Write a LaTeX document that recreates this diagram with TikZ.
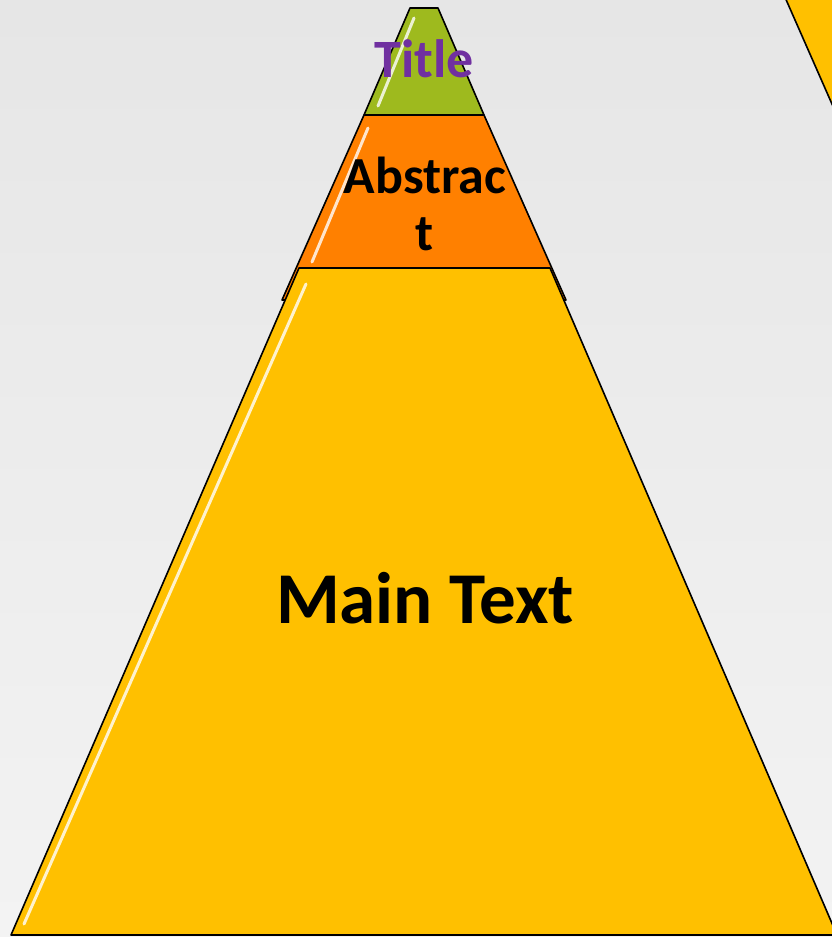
\documentclass[tikz,border=0pt]{standalone}
\usepackage{fontspec}
\setmainfont{Carlito}
\usepackage{tikz}
\usetikzlibrary{positioning}
\definecolor{bgtop}{RGB}{230,230,230}
\definecolor{bgbottom}{RGB}{243,243,243}
\definecolor{titlegreen}{RGB}{158,186,30}
\definecolor{abstractorange}{RGB}{255,128,0}
\definecolor{mainyellow}{RGB}{255,192,0}
\definecolor{titlepurple}{RGB}{112,48,160}
\tikzset{
    % 金字塔各层的样式
    layer/.style={
        draw=black,
        line width=1.6pt,
        line join=round
    },
    % 左侧高光
    gloss/.style={
        white,
        line width=3pt,
        opacity=0.8,
        line cap=round
    },
    layertext/.style={
        font=\bfseries,
        inner sep=0pt,
        anchor=base
    }
}

\begin{document}
\begin{tikzpicture}[x=1pt,y=-1pt]
    % ===================== 背景 =====================
    \useasboundingbox (0,0) rectangle (832,937);
    \clip (0,0) rectangle (832,937);
    \shade[top color=bgtop,bottom color=bgbottom] (0,0) rectangle (832,937);

    \path
    (410,8) coordinate (t1)
    (438,8) coordinate (t2)
    (364,115) coordinate (a1)
    (484,115) coordinate (a2)
    (282,300) coordinate (a3)
    (566,300) coordinate (a4)
    (299,268) coordinate (m1)
    (550,268) coordinate (m2)
    (11,935) coordinate (m3)
    (837,935) coordinate (m4)
    (784,-5) coordinate (n1)
    (839,120) coordinate (n2)
    ;

    % 右上角的另一层
    \draw[layer,fill=mainyellow] (n1) -- (n2) -- (850,120) -- (850,-5) -- cycle;

    % ========== 三层金字塔 ==========
    \draw[layer,fill=abstractorange] (a1) -- (a2) -- (a4) -- (a3) -- cycle;
    \draw[layer,fill=titlegreen] (t1) -- (t2) -- (a2) -- (a1) -- cycle;
    \draw[layer,fill=mainyellow] (m1) -- (m2) -- (m4) -- (m3) -- cycle;

    % 高光
    \draw[gloss] (414,18) -- (378,106);
    \draw[gloss] (368,128) -- (312,262);
    \draw[gloss] (306,284) -- (24,924);

    % 文本标注
    \node[layertext,titlepurple,font=\fontsize{54}{60}\selectfont\bfseries] (title) at (424,77) {Title};
    \node[layertext,font=\fontsize{52}{57}\selectfont\bfseries] (abstract) at (425,193) {Abstrac};
    \node[layertext,font=\fontsize{52}{57}\selectfont\bfseries] (abstractt) at (425,250) {t};
    \node[layertext,font=\fontsize{73}{80}\selectfont\bfseries] (maintext) at (425,623) {Main Text};
\end{tikzpicture}
\end{document}
